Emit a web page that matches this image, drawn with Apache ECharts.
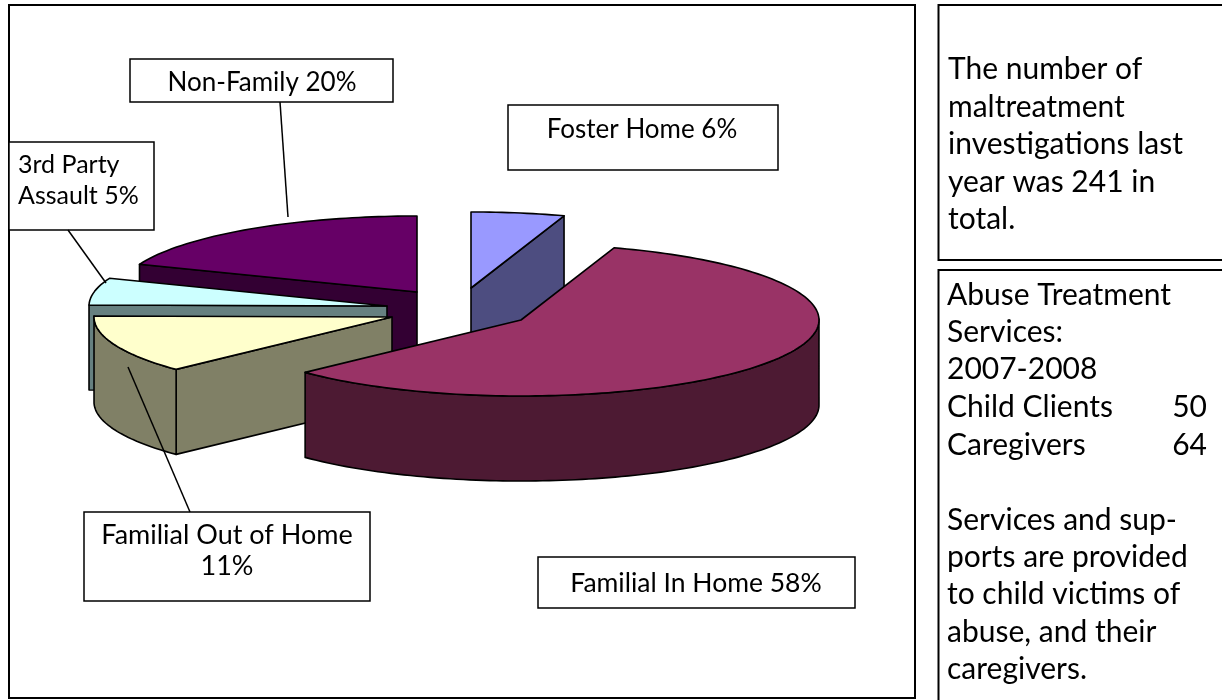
<!DOCTYPE html>
<html><head><meta charset="utf-8">
<script src="https://cdn.jsdelivr.net/npm/echarts@6/dist/echarts.min.js"></script>
<style>html,body{margin:0;padding:0;background:#fff}#c{width:1222px;height:700px}</style>
</head><body><div id="c"></div>
<script>
// Data, in clockwise order from 12 o'clock
const categories = ['Foster Home', 'Familial In Home', 'Familial Out of Home', '3rd Party Assault', 'Non-Family'];
const percents = [6, 58, 11, 5, 20];
const topColors = ['#9999FF', '#993366', '#FFFFCC', '#CCFFFF', '#660066'];
const wallColors = ['#4D4D80', '#4D1A33', '#808066', '#668080', '#330033'];
// Side text
const panelOne = ['The number of', 'maltreatment', 'investigations last', 'year was 241 in', 'total.'];
const panelTwo = ['Abuse Treatment', 'Services:', '2007-2008', 'Child Clients', 'Caregivers', '', 'Services and sup-', 'ports are provided', 'to child victims of', 'abuse, and their', 'caregivers.'];
const panelCounts = ['50', '64'];

// Layout
const sliceCentres = [[471, 288], [521, 320], [392, 317], [387, 306], [417, 292]];
const paintOrder = [4, 0, 3, 2, 1];
const RX = 298, RY = 76, DEPTH = 85, WARP2 = 4.6, WARP1 = 0.7;
const FONT = 'Lato, sans-serif';
const total = percents.reduce((a, b) => a + b, 0);
let acc = 0;
const spans = percents.map(v => { const s = acc / total * 360; acc += v; return [s, acc / total * 360]; });
const rows = paintOrder.map(i => [percents[i], i]);

const warp = a => a - WARP2 * Math.sin(2 * a * Math.PI / 180) - WARP1 * Math.sin(a * Math.PI / 180);
function pt(c, a, dz) {
  const r = warp(a) * Math.PI / 180;
  return [c[0] + RX * Math.sin(r), c[1] - RY * Math.cos(r) + dz];
}
function arc(c, a, b, dz) {
  const out = [];
  const n = Math.max(2, Math.ceil(Math.abs(b - a) / 1.5));
  for (let k = 0; k <= n; k++) out.push(pt(c, a + (b - a) * k / n, dz));
  return out;
}
function renderSlice(params, api) {
  const i = api.value(1), c = sliceCentres[i], a = spans[i][0], b = spans[i][1];
  const wallStyle = { fill: wallColors[i], stroke: '#000', lineWidth: 1.6, lineJoin: 'round' };
  const kids = [];
  const s = Math.sin(a * Math.PI / 180), e = Math.sin(b * Math.PI / 180);
  const wall = (p) => kids.push({ type: 'polygon', shape: { points: p }, style: wallStyle, silent: true });
  const radial = (ang) => {
    const o = pt(c, ang, 0);
    wall([[c[0], c[1]], o, [o[0], o[1] + DEPTH], [c[0], c[1] + DEPTH]]);
  };
  if (e > 1e-6) radial(b);
  if (s < -1e-6) radial(a);
  const fa = Math.max(a, 90), fb = Math.min(b, 270);
  if (fb > fa) {
    const upper = arc(c, fa, fb, 0), lower = arc(c, fb, fa, DEPTH);
    wall(upper.concat(lower));
  }
  kids.push({ type: 'polygon', shape: { points: [[c[0], c[1]]].concat(arc(c, a, b, 0)) },
    style: { fill: topColors[i], stroke: '#000', lineWidth: 1.6, lineJoin: 'round' }, silent: true });
  return { type: 'group', children: kids };
}

const box = (x, y, w, h, lw) => ({ type: 'rect', shape: { x, y, width: w, height: h },
  style: { fill: '#fff', stroke: '#000', lineWidth: lw || 1.5 }, silent: true });
const seg = (x1, y1, x2, y2) => ({ type: 'line', shape: { x1, y1, x2, y2 }, style: { stroke: '#000', lineWidth: 1.5 }, silent: true, z: 20 });
const txt = (t, x, y, size, align) => ({ type: 'text', x, y, z: 30, silent: true,
  style: { text: t, fill: '#000', font: size + 'px ' + FONT, align: align || 'left', verticalAlign: 'middle' } });

const PANEL = 30;
const p1y = [69, 107, 144, 182, 219];
const p2y = [295, 332, 369, 407, 445, 482, 520, 557, 594, 632, 669];
const graphics = [
  box(9, 5, 906, 693, 2), box(938.5, 5, 400, 255, 2), box(938.5, 270, 400, 500, 2),
  box(130, 59, 263, 43), box(508, 105, 270, 65), box(9, 142, 145, 88), box(84, 512, 286, 89), box(538, 557, 317, 51),
  seg(280, 102, 288, 217), seg(68, 230, 106, 283), seg(128, 367, 190, 512),
  txt('Non-Family 20%', 262, 83, 26, 'center'),
  txt('Foster Home 6%', 642, 130, 26, 'center'),
  txt('3rd Party', 18, 165, 25), txt('Assault 5%', 18, 196, 25),
  txt('Familial Out of Home', 227, 535, 27, 'center'), txt('11%', 227, 566, 27, 'center'),
  txt('Familial In Home 58%', 696, 583, 26.5, 'center')
];
panelOne.forEach((t, i) => graphics.push(txt(t, 948, p1y[i], PANEL)));
panelTwo.forEach((t, i) => { if (t) graphics.push(txt(t, 947, p2y[i], PANEL)); });
panelCounts.forEach((t, i) => graphics.push(txt(t, 1207, p2y[3 + i], PANEL, 'right')));

const chart = echarts.init(document.getElementById('c'), null, { renderer: 'canvas' });
chart.setOption({
  animation: false,
  backgroundColor: '#fff',
  graphic: { elements: graphics.map(g => Object.assign({ z: 1 }, g)) },
  series: [{
    type: 'custom', coordinateSystem: 'none', z: 10, silent: true,
    renderItem: renderSlice, data: rows
  }]
});
</script></body></html>
